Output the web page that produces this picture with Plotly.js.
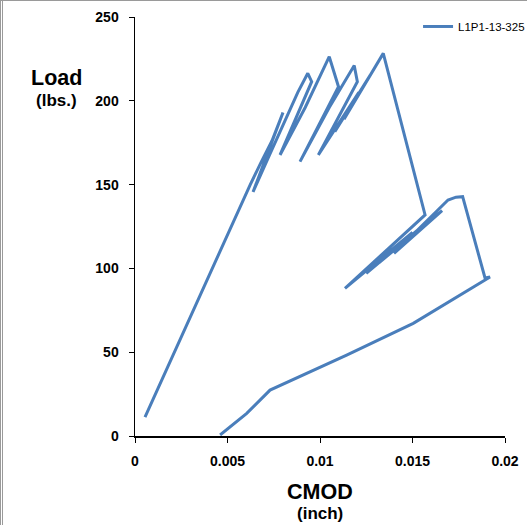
<!DOCTYPE html>
<html>
<head>
<meta charset="utf-8">
<script src="https://cdn.plot.ly/plotly-3.0.1.min.js"></script>
<style>
html,body{margin:0;padding:0;background:#fff;}
#wrap{position:relative;width:527px;height:525px;overflow:hidden;}
#chart{position:absolute;left:0;top:0;width:527px;height:525px;}
#frame{position:absolute;left:0;top:0;width:540px;height:540px;border-left:3px double #9a9a9a;border-top:1px solid #9a9a9a;box-sizing:border-box;pointer-events:none;}
</style>
</head>
<body>
<div id="wrap"><div id="chart"></div><div id="frame"></div></div>
<script>
const seriesName = "L1P1-13-325";
const cmod = [0.00054,0.00212,0.00315,0.00417,0.0052,0.00623,0.0068,0.0074,0.0080,
  0.00638,0.0072,0.0082,0.0088,0.00934,0.00955,0.00784,0.0092,0.0105,0.0110,
  0.00892,0.0105,0.01185,0.01202,0.00991,0.0121,0.0108,0.0127,0.0113,0.01342,
  0.01568,0.01135,0.0150,0.0125,0.0162,0.0132,0.0166,0.0140,0.01692,0.01735,0.01771,0.01892,
  0.01919,0.01504,0.01144,0.0073,0.00604,0.0046];
const load = [11.3,50,75,100,125,150,163,176,193,
  145.6,166,190,205,216.4,211.4,167.7,196,226.3,208.4,
  163.7,196,221,211.4,167.7,205,181.5,215,189,228.3,
  131.9,88.1,121.5,97,131.5,103.5,134.5,109,140.8,142.5,142.8,94.3,
  94.9,67.2,48.3,27.4,13.5,0.6];
const xTicks = [0,0.005,0.01,0.015,0.02];
const xTickText = ["0","0.005","0.01","0.015","0.02"];
const yTicks = [0,50,100,150,200,250];
const yTickText = ["0","50","100","150","200","250"];

const ff = "Liberation Sans, Arial, sans-serif";
const tickFont = {family: ff, size:14, color:"#000", weight:"bold"};
Plotly.newPlot("chart", [{
  x: cmod, y: load, type: "scatter", mode: "lines", name: seriesName,
  line: {color: "#4a7ebb", width: 3}
}], {
  width: 527, height: 525,
  margin: {l:135, r:22, t:17, b:89, autoexpand: false},
  paper_bgcolor: "#fff", plot_bgcolor: "#fff",
  showlegend: true,
  legend: {x: 0.765, xanchor: "left", y: 1.012, yanchor: "top", bgcolor: "rgba(0,0,0,0)", itemwidth: 30,
    font: {family: ff, size: 11.5, color: "#000"}},
  xaxis: {range: [0, 0.02], tickvals: xTicks, ticktext: xTickText, showgrid: false, zeroline: false,
    showline: true, linecolor: "#000", linewidth: 1.5, ticks: "outside", ticklen: 5, tickcolor: "#000",
    ticklabelstandoff: 7, tickfont: tickFont, automargin: false},
  yaxis: {range: [0, 250], tickvals: yTicks, ticktext: yTickText, showgrid: false, zeroline: false,
    showline: true, linecolor: "#000", linewidth: 1.5, ticks: "outside", ticklen: 5, tickcolor: "#000",
    ticklabelstandoff: 7, tickfont: tickFont, automargin: false},
  annotations: [
    {text: "<b>Load</b>", xref: "paper", yref: "paper", x: -0.212, y: 0.855, xanchor: "center", yanchor: "middle",
     showarrow: false, font: {family: ff, size: 21.5, color: "#000"}},
    {text: "<b>(lbs.)</b>", xref: "paper", yref: "paper", x: -0.212, y: 0.8, xanchor: "center", yanchor: "middle",
     showarrow: false, font: {family: ff, size: 17, color: "#000"}},
    {text: "<b>CMOD</b>", xref: "paper", yref: "paper", x: 0.5, y: -0.134, xanchor: "center", yanchor: "middle",
     showarrow: false, font: {family: ff, size: 21.5, color: "#000"}},
    {text: "<b>(inch)</b>", xref: "paper", yref: "paper", x: 0.5, y: -0.184, xanchor: "center", yanchor: "middle",
     showarrow: false, font: {family: ff, size: 17, color: "#000"}}
  ]
}, {displayModeBar: false, staticPlot: true});
</script>
</body>
</html>
